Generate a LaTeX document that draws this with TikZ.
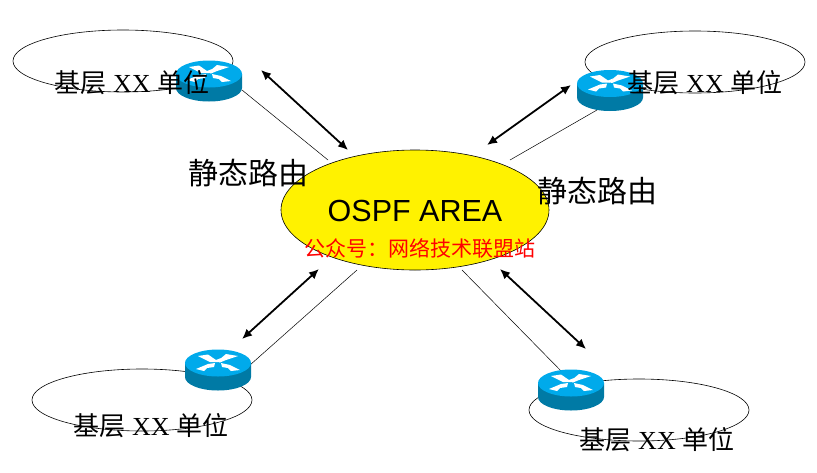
\documentclass[tikz,border=0pt]{standalone}
\usepackage{fontspec}
\setmainfont{Liberation Serif}
\newfontfamily\cjk{Noto Sans CJK SC}
\newfontfamily\arialf{Liberation Sans}
\usetikzlibrary{arrows.meta,shapes.geometric}
\definecolor{routertop}{RGB}{0,170,235}
\definecolor{routerside}{RGB}{0,122,165}
\tikzset{
  unit/.style={draw=black,line width=0.6pt,ellipse,minimum width=220pt,minimum height=62pt,inner sep=0pt},
  area/.style={draw=black,line width=0.6pt,ellipse,fill=yellow,minimum width=268pt,minimum height=120pt,inner sep=0pt},
  link/.style={draw=black,line width=0.5pt},
  biarrow/.style={draw=black,line width=1.8pt,{Latex[length=10pt,width=9pt]}-{Latex[length=10pt,width=9pt]}},
  unitlabel/.style={font=\fontsize{26}{26}\selectfont,inner sep=0pt},
  staticlabel/.style={font=\cjk\fontsize{30}{30}\selectfont,inner sep=0pt},
  routerbox/.style={minimum width=66pt,minimum height=41pt,inner sep=0pt,draw=none},
  router/.pic={
    \fill[routerside] (-33,-7) -- (-33,7) arc[start angle=180,end angle=0,x radius=33,y radius=13.5] -- (33,-7) -- cycle;
    \fill[routertop] (0,-7) ellipse[x radius=33,y radius=13.5];
    \fill[white] (-20,-14) -- (-10,-15.5) -- (-2,-10) -- (3,-12) -- (0,-8) -- (-8,-8) -- cycle;
    \fill[white] (20,-14) -- (8,-16) -- (2,-11) -- (-3,-9) -- (2,-7.5) -- (8,-10) -- cycle;
    \fill[white] (-22,-1) -- (-10,-6) -- (-3,-7) -- (-4,-3) -- (-11,-2) -- (-14,1) -- cycle;
    \fill[white] (22,0) -- (12,-5) -- (3,-7) -- (4,-3) -- (10,-2) -- (13,1) -- cycle;
  }
}
\newcommand{\unitname}{{\cjk 基层} XX {\cjk 单位}}
\begin{document}
\begin{tikzpicture}[x=1pt,y=-1pt]
\useasboundingbox (0,0) rectangle (817,472);
\node[unit] (e1) at (123,61) {};
\node[unit] (e2) at (695,62) {};
\node[unit] (e3) at (142,400) {};
\node[unit] (e4) at (639,410) {};
\node[routerbox] (r1) at (209,81) {};
\node[routerbox] (r2) at (610,90.5) {};
\node[routerbox] (r3) at (218,370) {};
\node[routerbox] (r4) at (571,390) {};
\coordinate (l1) at (328,160);
\coordinate (l2) at (510,160);
\coordinate (l3) at (357,270);
\coordinate (l4) at (462,270);
\draw[link] (242,90) coordinate (s1) -- (l1);
\draw[link] (597,110) coordinate (s2) -- (l2);
\draw[link] (250,365) coordinate (s3) -- (l3);
\draw[link] (565,375) coordinate (s4) -- (l4);
\node[area] (area) at (415,210) {};
\pic at (r1) {router};
\pic at (r2) {router};
\pic at (r3) {router};
\pic at (r4) {router};
\coordinate (a1s) at (261,70); \coordinate (a1e) at (348,150);
\coordinate (a2s) at (571,85); \coordinate (a2e) at (487,145);
\coordinate (a3s) at (319,269); \coordinate (a3e) at (242,339);
\coordinate (a4s) at (500,269); \coordinate (a4e) at (586,349);
\draw[biarrow] (a1s) -- (a1e);
\draw[biarrow] (a2s) -- (a2e);
\draw[biarrow] (a3s) -- (a3e);
\draw[biarrow] (a4s) -- (a4e);
\node[unitlabel] (t1) at (132,83) {\unitname};
\node[unitlabel] (t2) at (705,83) {\unitname};
\node[unitlabel] (t3) at (151,426) {\unitname};
\node[unitlabel] (t4) at (657,440) {\unitname};
\node[staticlabel] (s5) at (248,173) {静态路由};
\node[staticlabel] (s6) at (597,191) {静态路由};
\node[inner sep=0pt,font=\arialf\fontsize{30.5}{30}\selectfont] (o) at (415,211) {OSPF AREA};
\node[inner sep=0pt,text=red,font=\cjk\fontsize{21}{21}\selectfont] (w) at (420,248) {公众号{\char"FF1A}网络技术联盟站};
\end{tikzpicture}
\end{document}
